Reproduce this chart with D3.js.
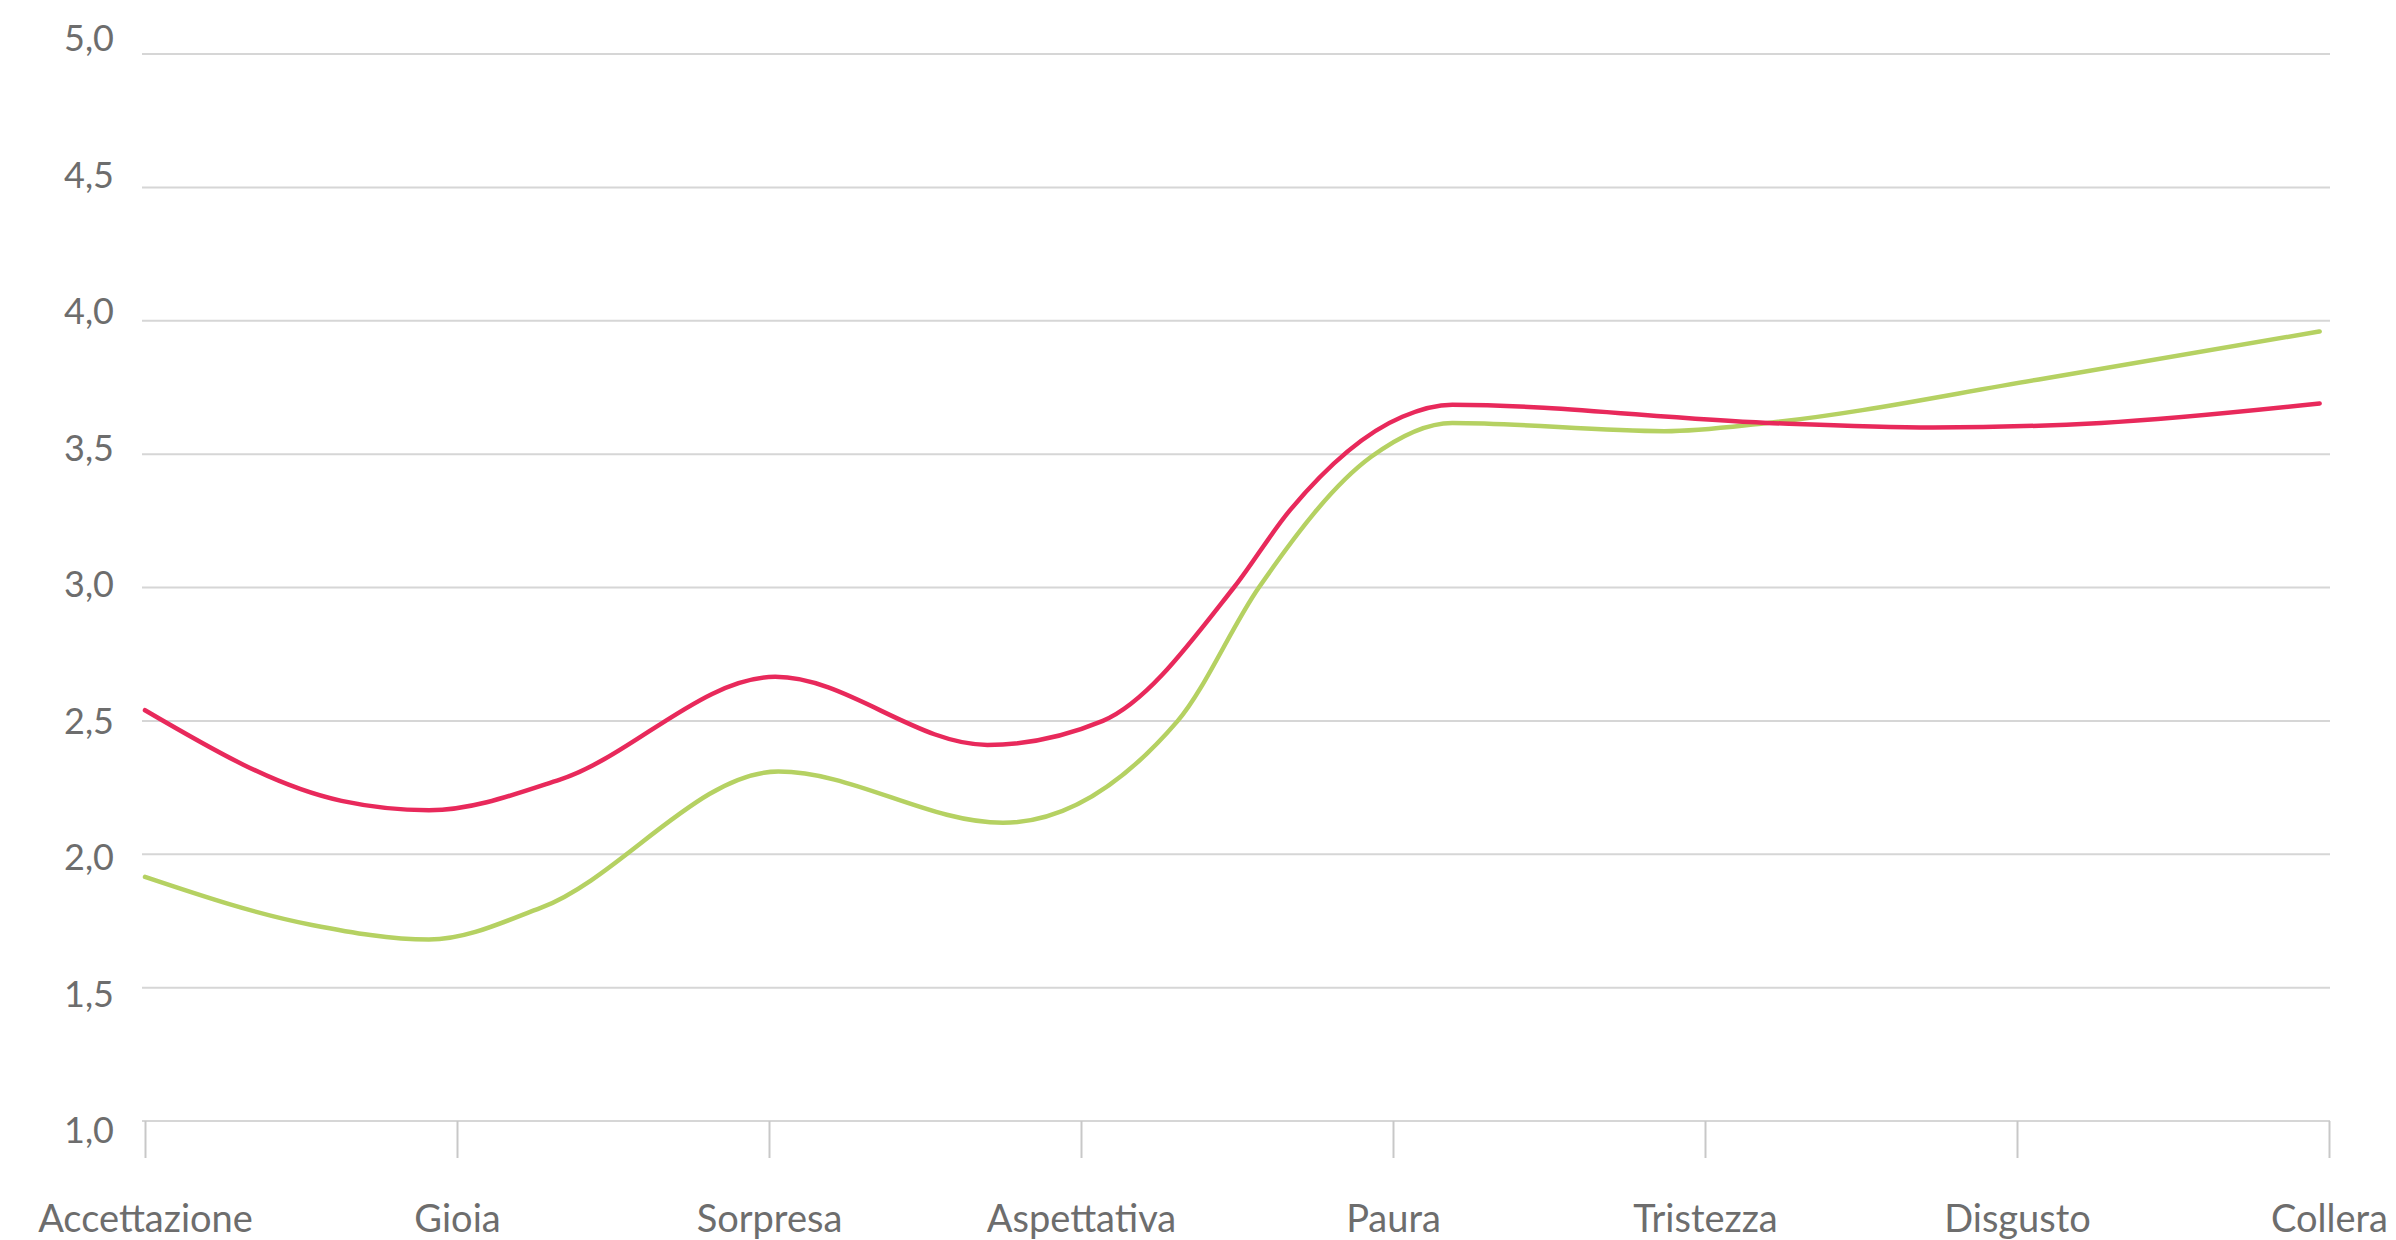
<!DOCTYPE html>
<html>
<head>
<meta charset="utf-8">
<script src="https://cdn.jsdelivr.net/npm/d3@7"></script>
<style>
  html, body { margin: 0; padding: 0; background: #fff; }
  svg { display: block; font-family: Lato, "Open Sans", sans-serif; }
</style>
</head>
<body>
<svg id="chart"></svg>
<script>
// Categories along the x axis
const categories = ["Accettazione", "Gioia", "Sorpresa", "Aspettativa", "Paura", "Tristezza", "Disgusto", "Collera"];

// y tick values
const yTicks = [1.0, 1.5, 2.0, 2.5, 3.0, 3.5, 4.0, 4.5, 5.0];

// Red series: position along the category axis (index units) and value
const redAt  = [0, 0.63, 0.91, 1.33, 2.02, 2.70, 3.07, 3.49, 3.67, 4.03, 4.19, 5.20, 5.73, 6.27, 6.97];
const redVal = [2.54, 2.20, 2.165, 2.28, 2.665, 2.41, 2.50, 3.0, 3.29, 3.64, 3.685, 3.617, 3.60, 3.617, 3.69];

// Green series
const greenAt  = [0, 0.535, 0.91, 1.27, 2.03, 2.75, 3.31, 3.57, 3.93, 4.19, 4.87, 5.20, 6.07, 6.97];
const greenVal = [1.915, 1.735, 1.68, 1.80, 2.31, 2.118, 2.50, 3.0, 3.49, 3.617, 3.586, 3.617, 3.78, 3.96];

const W = 2396, H = 1240;

const svg = d3.select("#chart")
    .attr("width", W)
    .attr("height", H);

// scales
const x = d3.scaleLinear()
    .domain([0, categories.length - 1])
    .range([145, 2329]);

const y = d3.scaleLinear()
    .domain([1, 5])
    .range([1121, 54]);

// the value labels sit on a slightly different spacing than the gridlines
const yLabel = d3.scaleLinear()
    .domain([1, 5])
    .range([1131, 39]);

// gridlines
svg.append("g")
    .selectAll("line")
    .data(yTicks)
    .join("line")
    .attr("x1", 142)
    .attr("x2", 2330)
    .attr("y1", d => y(d))
    .attr("y2", d => y(d))
    .attr("stroke", "#d6d6d6")
    .attr("stroke-width", 2);

// y labels
const yAxis = svg.append("g")
    .attr("transform", "translate(114,0)")
    .call(d3.axisLeft(yLabel)
        .tickValues(yTicks)
        .tickSize(0)
        .tickPadding(0)
        .tickFormat(d => d.toFixed(1).replace(".", ",")));
yAxis.select(".domain").remove();
yAxis.selectAll("text")
    .attr("font-size", 36)
    .attr("font-family", "Lato, sans-serif")
    .attr("fill", "#6d6d6d");

// x axis with ticks hanging below the baseline
const xAxis = svg.append("g")
    .attr("transform", "translate(0," + y(1) + ")")
    .call(d3.axisBottom(x)
        .tickValues(d3.range(categories.length))
        .tickSize(37)
        .tickPadding(47)
        .tickFormat(i => categories[i]));
xAxis.select(".domain").remove();
xAxis.selectAll(".tick line")
    .attr("stroke", "#c8c8c8")
    .attr("stroke-width", 2);
xAxis.selectAll("text")
    .attr("font-size", 38)
    .attr("font-family", "Lato, sans-serif")
    .attr("fill", "#6d6d6d");

// lines
const line = d3.line()
    .x(d => x(d[0]))
    .y(d => y(d[1]))
    .curve(d3.curveMonotoneX);

svg.append("path")
    .datum(d3.zip(greenAt, greenVal))
    .attr("fill", "none")
    .attr("stroke", "#b5d162")
    .attr("stroke-width", 4.5)
    .attr("stroke-linecap", "round")
    .attr("stroke-linejoin", "round")
    .attr("d", line);

svg.append("path")
    .datum(d3.zip(redAt, redVal))
    .attr("fill", "none")
    .attr("stroke", "#e8295b")
    .attr("stroke-width", 4.5)
    .attr("stroke-linecap", "round")
    .attr("stroke-linejoin", "round")
    .attr("d", line);
</script>
</body>
</html>
